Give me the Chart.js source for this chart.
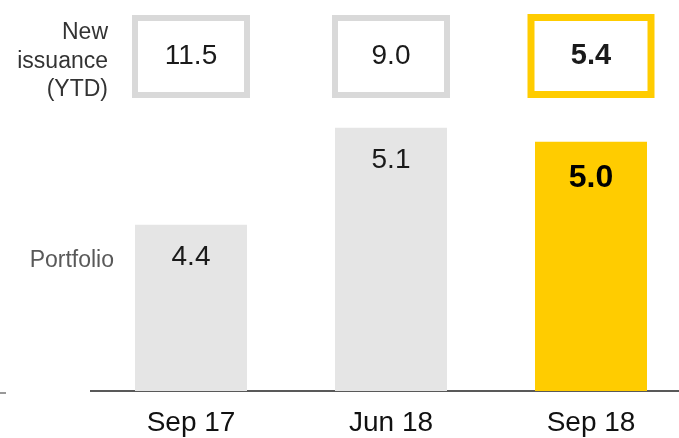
<!DOCTYPE html>
<html>
<head>
<meta charset="utf-8">
<script src="https://cdn.jsdelivr.net/npm/chart.js@4"></script>
<style>
  body { margin: 0; overflow: hidden; background: #fff; }
  canvas { display: block; }
</style>
</head>
<body>
<canvas id="chart" width="700" height="438"></canvas>
<script>
const periods = ['Sep 17', 'Jun 18', 'Sep 18'];
const portfolio = [4.4, 5.1, 5.0];
const newIssuance = [11.5, 9.0, 5.4];
const barColors = ['#e5e5e5', '#e5e5e5', '#ffcc00'];
const boxColors = ['#d9d9d9', '#d9d9d9', '#ffcc00'];
const highlight = [false, false, true];

const FONT = '"Liberation Sans", Arial, sans-serif';

// boxes for new issuance + labels inside bars + row titles
const annotations = {
  id: 'annotations',
  afterDatasetsDraw(chart) {
    const ctx = chart.ctx;
    const xs = chart.scales.x;
    const meta = chart.getDatasetMeta(0);
    ctx.save();

    // labels in bars
    ctx.textAlign = 'center';
    ctx.textBaseline = 'middle';
    meta.data.forEach((bar, i) => {
      ctx.fillStyle = highlight[i] ? '#000' : '#1a1a1a';
      ctx.font = (highlight[i] ? 'bold 32px ' : '28px ') + FONT;
      ctx.fillText(portfolio[i].toFixed(1), bar.x, bar.y + (highlight[i] ? 36 : 32));
    });

    // new issuance boxes
    newIssuance.forEach((v, i) => {
      const cx = xs.getPixelForValue(i);
      const w = highlight[i] ? 127 : 118;
      const lw = highlight[i] ? 7 : 6;
      const top = highlight[i] ? 14 : 15;
      const bottom = 98;
      ctx.strokeStyle = boxColors[i];
      ctx.lineWidth = lw;
      ctx.strokeRect(cx - w / 2 + lw / 2, top + lw / 2, w - lw, bottom - top - lw);
      ctx.fillStyle = '#1a1a1a';
      ctx.font = (highlight[i] ? 'bold 29px ' : '28px ') + FONT;
      ctx.fillText(v.toFixed(1), cx, 56);
    });

    // row titles
    ctx.textAlign = 'right';
    ctx.fillStyle = '#333';
    ctx.font = '23px ' + FONT;
    ['New', 'issuance', '(YTD)'].forEach((t, k) => ctx.fillText(t, 108, 33 + k * 28.5));
    ctx.fillStyle = '#595959';
    ctx.fillText('Portfolio', 114, 261);

    // small dash at the left edge
    ctx.strokeStyle = '#777';
    ctx.lineWidth = 1.5;
    ctx.beginPath();
    ctx.moveTo(0, 393);
    ctx.lineTo(6, 393);
    ctx.stroke();
    ctx.restore();
  }
};

new Chart(document.getElementById('chart').getContext('2d'), {
  type: 'bar',
  data: {
    labels: periods,
    datasets: [{
      label: 'Portfolio',
      data: portfolio,
      backgroundColor: barColors,
      borderWidth: 0,
      barPercentage: 0.56,
      categoryPercentage: 1
    }]
  },
  options: {
    responsive: false,
    animation: false,
    layout: { padding: { left: 91, right: 9, top: 114, bottom: 0 } },
    plugins: { legend: { display: false }, tooltip: { enabled: false } },
    scales: {
      x: {
        grid: { display: false, drawTicks: false },
        border: { display: true, color: '#595959', width: 2 },
        ticks: { color: '#111', font: { family: FONT, size: 28 }, padding: 15 },
        afterFit: s => { s.height = 47; }
      },
      y: {
        display: false,
        min: 3.2,
        max: 5.2
      }
    }
  },
  plugins: [annotations]
});
</script>
</body>
</html>
